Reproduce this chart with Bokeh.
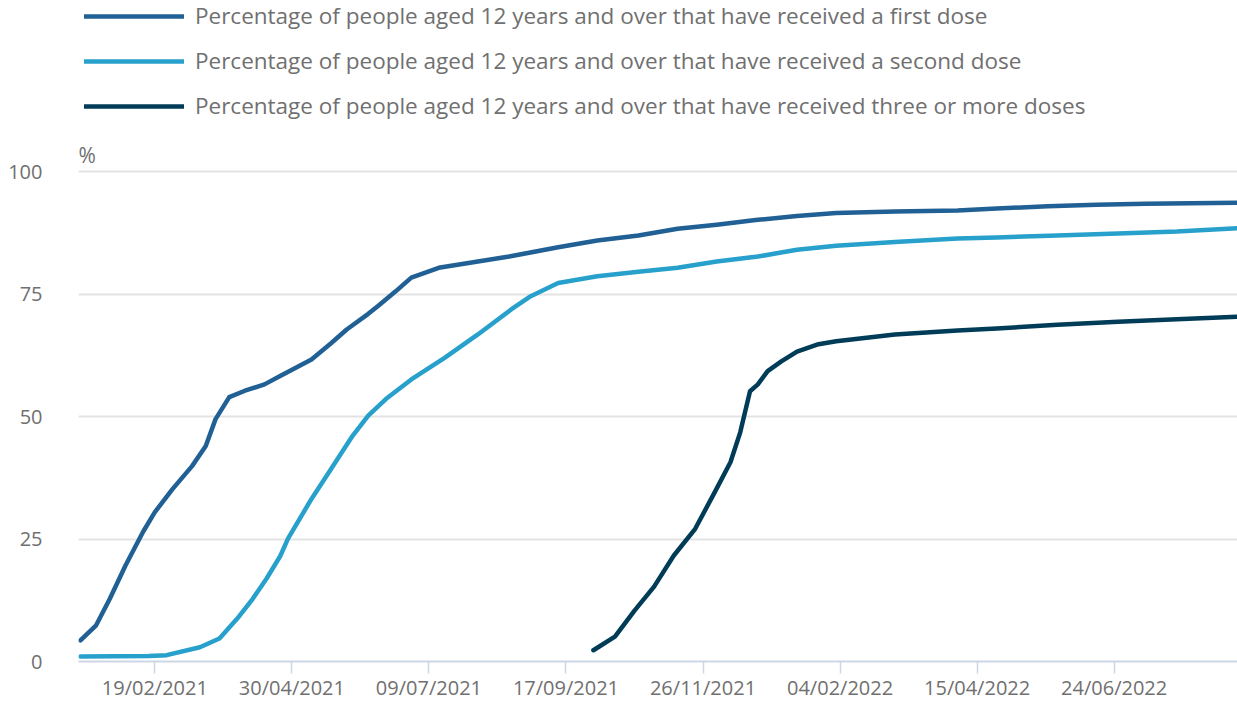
import pandas as pd
from bokeh.plotting import figure
from bokeh.models import (Range1d, FixedTicker, DatetimeTickFormatter, Legend,
                          LegendItem, Label)
from bokeh.embed import file_html
from bokeh.resources import INLINE

# ---------------- data ----------------
first_dates = ["2021-01-12", "2021-01-20", "2021-01-27", "2021-02-04", "2021-02-13",
               "2021-02-19", "2021-02-28", "2021-03-10", "2021-03-17", "2021-03-22",
               "2021-03-29", "2021-04-06", "2021-04-16", "2021-04-24", "2021-05-10",
               "2021-05-20", "2021-05-28", "2021-06-08", "2021-06-13", "2021-06-22",
               "2021-06-30", "2021-07-14", "2021-08-03", "2021-08-19", "2021-09-13",
               "2021-10-03", "2021-10-24", "2021-11-13", "2021-12-03", "2021-12-24",
               "2022-01-13", "2022-02-02", "2022-03-04", "2022-04-05", "2022-04-25",
               "2022-05-21", "2022-06-15", "2022-07-10", "2022-08-26"]
first_values = [4.3, 7.4, 12.8, 19.6, 26.5,
                30.5, 35.2, 39.9, 44.0, 49.5,
                54.0, 55.3, 56.6, 58.3, 61.7,
                65.0, 67.8, 71.0, 72.6, 75.6,
                78.4, 80.4, 81.7, 82.7, 84.6,
                86.0, 87.0, 88.4, 89.2, 90.2,
                91.0, 91.6, 91.9, 92.1, 92.5,
                93.0, 93.3, 93.5, 93.7]

second_dates = ["2021-01-12", "2021-02-16", "2021-02-25", "2021-03-14", "2021-03-24",
                "2021-04-03", "2021-04-10", "2021-04-17", "2021-04-24", "2021-04-28",
                "2021-05-10", "2021-05-20", "2021-05-31", "2021-06-08", "2021-06-17",
                "2021-06-30", "2021-07-17", "2021-08-03", "2021-08-20", "2021-08-30",
                "2021-09-13", "2021-10-03", "2021-10-24", "2021-11-13", "2021-12-03",
                "2021-12-24", "2022-01-13", "2022-02-02", "2022-03-04", "2022-04-05",
                "2022-04-25", "2022-05-26", "2022-06-26", "2022-07-26", "2022-08-26"]
second_values = [1.0, 1.1, 1.3, 2.9, 4.7,
                 9.2, 12.8, 16.9, 21.5, 25.1,
                 33.2, 39.3, 46.1, 50.2, 53.6,
                 57.6, 62.0, 66.8, 71.9, 74.6,
                 77.3, 78.7, 79.6, 80.4, 81.7,
                 82.7, 84.1, 84.9, 85.7, 86.4,
                 86.6, 87.0, 87.4, 87.8, 88.5]

third_dates = ["2021-10-01", "2021-10-12", "2021-10-22", "2021-11-01", "2021-11-11",
               "2021-11-22", "2021-12-02", "2021-12-10", "2021-12-15", "2021-12-20",
               "2021-12-24", "2021-12-29", "2022-01-05", "2022-01-13", "2022-01-24",
               "2022-02-02", "2022-03-04", "2022-04-05", "2022-04-25", "2022-05-26",
               "2022-06-26", "2022-07-26", "2022-08-26"]
third_values = [2.3, 5.1, 10.4, 15.3, 21.6,
                27.1, 34.6, 40.7, 46.8, 55.2,
                56.6, 59.3, 61.3, 63.3, 64.8,
                65.4, 66.8, 67.6, 68.0, 68.8,
                69.4, 69.9, 70.4]

series_labels = [
    "Percentage of people aged 12 years and over that have received a first dose",
    "Percentage of people aged 12 years and over that have received a second dose",
    "Percentage of people aged 12 years and over that have received three or more doses",
]
series_colors = ["#206095", "#27a0cc", "#003c57"]

x_tick_labels = ["19/02/2021", "30/04/2021", "09/07/2021", "17/09/2021",
                 "26/11/2021", "04/02/2022", "15/04/2022", "24/06/2022"]
y_ticks = [0, 25, 50, 75, 100]
x_start, x_end = "2021-01-11", "2022-08-26"


def ms(s, fmt=None):
    return float(pd.to_datetime(s, format=fmt).value // 10**6)


# ---------------- figure ----------------
TEXT = "#707070"
FONT = "Open Sans"
Y_TOP = 135.0   # room above 100 % for the legend and the "%" unit

p = figure(width=1237, height=703, x_axis_type="datetime",
           x_range=Range1d(ms(x_start), ms(x_end)),
           y_range=Range1d(0, Y_TOP),
           output_backend="svg", toolbar_location=None,
           min_border_left=78, min_border_right=0, min_border_top=0,
           min_border_bottom=40)
p.outline_line_color = None
p.background_fill_color = "white"

renderers = []
for d, v, c in zip([first_dates, second_dates, third_dates],
                   [first_values, second_values, third_values], series_colors):
    xs = [ms(s) for s in d]
    r = p.line(xs, v, line_color=c, line_width=4.5,
               line_join="round", line_cap="round")
    renderers.append(r)

# x axis
xa = p.xaxis[0]
xa.ticker = FixedTicker(ticks=[ms(t, "%d/%m/%Y") for t in x_tick_labels])
fmt = "%d/%m/%Y"
xa.formatter = DatetimeTickFormatter(days=fmt, months=fmt, years=fmt, hours=fmt,
                                     hourmin=fmt, minutes=fmt, minsec=fmt,
                                     seconds=fmt, milliseconds=fmt, microseconds=fmt)
xa.axis_line_color = "#cdd6e4"
xa.axis_line_width = 2
xa.major_tick_line_color = "#cdd6e4"
xa.major_tick_line_width = 1.5
xa.major_tick_out = 12
xa.major_tick_in = 0
xa.minor_tick_line_color = None
xa.major_label_standoff = 0
xa.major_label_text_font = FONT
xa.major_label_text_font_size = "20px"
xa.major_label_text_color = TEXT

# y axis
ya = p.yaxis[0]
ya.ticker = FixedTicker(ticks=y_ticks)
ya.axis_line_color = None
ya.major_tick_line_color = None
ya.minor_tick_line_color = None
ya.major_label_standoff = 30
ya.major_label_text_font = FONT
ya.major_label_text_font_size = "20px"
ya.major_label_text_color = TEXT

p.xgrid.grid_line_color = None
p.ygrid.grid_line_color = "#e3e3e3"
p.ygrid.grid_line_width = 2

# "%" unit label above the y axis
p.add_layout(Label(x=ms(x_start), y=100, text="%", text_baseline="bottom",
                   y_offset=3, x_offset=0, text_font=FONT, text_font_size="21px",
                   text_color=TEXT))

legend = Legend(items=[LegendItem(label=l, renderers=[r])
                       for l, r in zip(series_labels, renderers)],
                location=(6, 540), orientation="vertical",
                glyph_width=100, glyph_height=20, label_standoff=11,
                label_height=20, spacing=14, padding=0, margin=0,
                border_line_alpha=0, background_fill_alpha=0,
                label_text_font=FONT, label_text_font_size="22.5px",
                label_text_color=TEXT)
p.add_layout(legend)

open("out.html", "w").write(file_html(p, INLINE))
